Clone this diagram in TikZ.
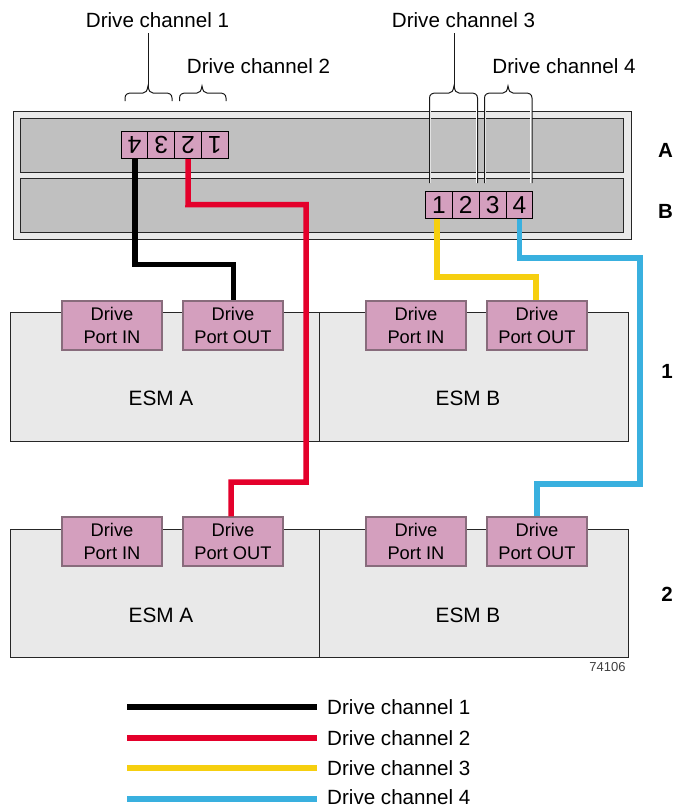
\documentclass[tikz,border=0pt]{standalone}
\usepackage{fontspec}
\setmainfont{Liberation Sans}
\definecolor{pinkport}{HTML}{D49FBE}
\definecolor{bay}{HTML}{C0C0C0}
\definecolor{shell}{HTML}{E9E9E9}
\definecolor{chred}{HTML}{E4002B}
\definecolor{chyel}{HTML}{F6CF0F}
\definecolor{chblu}{HTML}{39B0DF}
\tikzset{
  x=1pt,y=-1pt,
  box/.style={draw=black!85,line width=1pt,fill=#1,inner sep=0pt,anchor=north west},
  cell/.style={draw=black,line width=1pt,fill=pinkport,inner sep=0pt,minimum width=26.8pt,minimum height=27pt,font=\fontsize{24.5}{26}\selectfont},
  port/.style={draw=black!35!pinkport!80!gray,line width=1.2pt,fill=pinkport,inner sep=0pt,minimum width=100pt,minimum height=49pt,align=center,font=\fontsize{18.3}{23}\selectfont},
  lab/.style={inner sep=0pt,font=\fontsize{20.6}{24}\selectfont},
  txt/.style={inner sep=0pt,font=\fontsize{20.8}{24}\selectfont},
  bold/.style={inner sep=0pt,font=\fontsize{20.5}{24}\selectfont\bfseries},
  cable/.style={line width=5.5pt,line join=miter},
  thin/.style={line width=1pt,black!90},
  halo/.style={line width=1.2pt,white},
}
\begin{document}
\begin{tikzpicture}
\useasboundingbox (0,0) rectangle (675,809);
% controller
\node[box=shell,minimum width=618pt,minimum height=128pt] (chassis) at (12.5,111) {};
\node[box=bay,minimum width=603pt,minimum height=54pt] (bayA) at (20,118) {};
\node[box=bay,minimum width=603pt,minimum height=54pt] (bayB) at (20,178) {};
% ports on A (upside down)
\node[cell] (t4) at (134.5,145) {\rotatebox{180}{4}};
\node[cell] (t3) at (161.3,145) {\rotatebox{180}{3}};
\node[cell] (t2) at (188.1,145) {\rotatebox{180}{2}};
\node[cell] (t1) at (214.9,145) {\rotatebox{180}{1}};
% ports on B
\node[cell] (b1) at (439,205) {1};
\node[cell] (b2) at (465.8,205) {2};
\node[cell] (b3) at (492.6,205) {3};
\node[cell] (b4) at (519.4,205) {4};
% shelves
\node[box=shell,minimum width=309pt,minimum height=129pt] (s1a) at (10,312) {};
\node[box=shell,minimum width=309pt,minimum height=129pt] (s1b) at (319,312) {};
\node[box=shell,minimum width=309pt,minimum height=128pt] (s2a) at (10,529) {};
\node[box=shell,minimum width=309pt,minimum height=128pt] (s2b) at (319,529) {};
\node[txt] (e1a) at (161,398) {ESM A};
\node[txt] (e1b) at (468,398) {ESM B};
\node[txt] (e2a) at (161,615) {ESM A};
\node[txt] (e2b) at (468,615) {ESM B};
% drive ports
\node[port] (p1) at (112,325.5) {Drive\\Port IN};
\node[port] (p2) at (233,325.5) {Drive\\Port OUT};
\node[port] (p3) at (416,325.5) {Drive\\Port IN};
\node[port] (p4) at (537,325.5) {Drive\\Port OUT};
\node[port] (p5) at (112,541.5) {Drive\\Port IN};
\node[port] (p6) at (233,541.5) {Drive\\Port OUT};
\node[port] (p7) at (416,541.5) {Drive\\Port IN};
\node[port] (p8) at (537,541.5) {Drive\\Port OUT};
% cables
\draw[cable,black] ([xshift=0.5pt]t4.south) -- (135,264.5) -- (233.5,264.5) -- (p2.north -| 233.5,0);
\draw[cable,chred] (t2.south) -- (188,204.5) -- (306,204.5) -- (306,482) -- (231,482) -- ([xshift=-2pt]p6.north);
\draw[cable,chyel] ([xshift=-2pt]b1.south) -- (437,277) -- (536,277) -- ([xshift=-1pt]p4.north);
\draw[cable,chblu] (b4.south) -- (519.4,258) -- (640,258) -- (640,484) -- (537,484) -- (p8.north);
% braces
\coordinate (c1) at (148,33); \coordinate (c3) at (454,33);
\newcommand{\bracepath}[4]{% left, tip, right, bottom
  (#1,#4) -- (#1,98) .. controls (#1,94) and (#1+3,93) .. (#1+7,93) -- (#2-5,93) .. controls (#2-2,93) and (#2-1,91) .. (#2,86) .. controls (#2+1,91) and (#2+2,93) .. (#2+5,93) -- (#3-7,93) .. controls (#3-3,93) and (#3,94) .. (#3,98) -- (#3,#4)}
\draw[thin] \bracepath{125}{148}{172}{101};
\draw[thin] (c1) -- (148,88);
\draw[thin] \bracepath{179.5}{202}{226}{101};
\draw[halo] (430.6,183) -- (430.6,110) (476.4,183) -- (476.4,110) (485.6,183) -- (485.6,110) (530.9,183) -- (530.9,110);
\draw[thin] \bracepath{429.5}{454}{477.5}{183};
\draw[thin] (c3) -- (454,88);
\draw[thin] \bracepath{484.5}{508}{532}{183};
% labels
\node[lab] (d1) at (157.5,20) {Drive channel 1};
\node[lab] (d2) at (258.5,66.5) {Drive channel 2};
\node[lab] (d3) at (463.5,20) {Drive channel 3};
\node[lab] (d4) at (564,66.5) {Drive channel 4};
\node[bold] (la) at (665.5,150) {A};
\node[bold] (lb) at (665.5,211) {B};
\node[bold] (l1) at (667,371) {1};
\node[bold] (l2) at (667,594) {2};
\node[inner sep=0pt,font=\fontsize{13}{15}\selectfont,text=black!75] (num) at (607.5,667.5) {74106};
% legend
\foreach \n/\c/\y/\ty in {1/black/707/707.5,2/chred/738/738,3/chyel/768/768,4/chblu/799/797.5}{
  \node[lab,anchor=west] (leg\n) at (327,\ty) {Drive channel \n};
  \coordinate (ls\n) at (127,\y);
  \coordinate (le\n) at (317,\y);
  \draw[cable,\c] (ls\n) -- (le\n);
}
\end{tikzpicture}
\end{document}
